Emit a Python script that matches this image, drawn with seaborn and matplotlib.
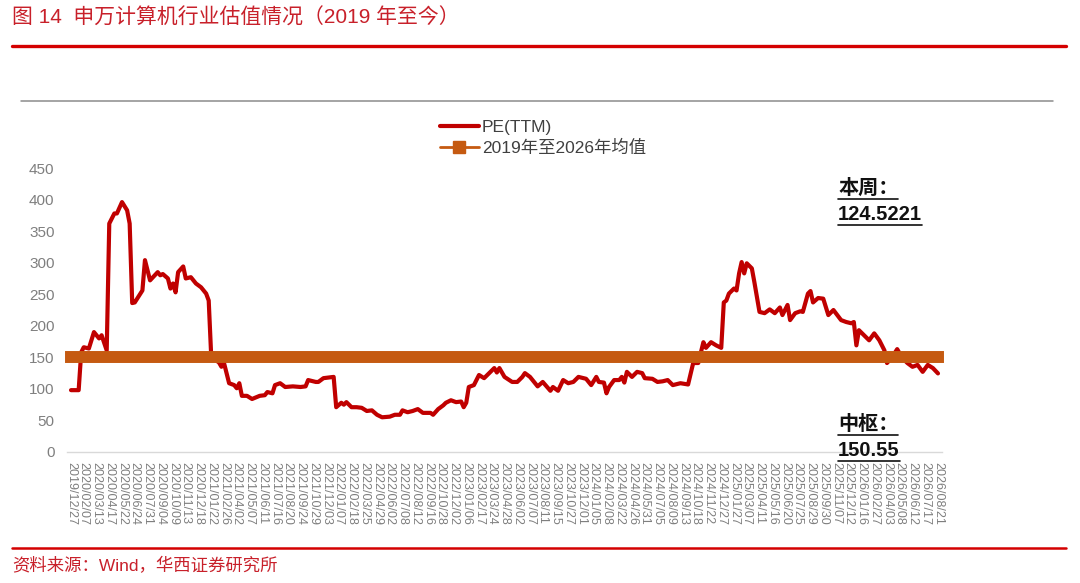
import pandas as pd
import seaborn as sns
import matplotlib.pyplot as plt
from matplotlib.lines import Line2D

# weekly category axis: one label every 5 trading weeks
tick_labels = [
    '2019/12/27', '2020/02/07', '2020/03/13', '2020/04/17', '2020/05/22', '2020/06/24',
    '2020/07/31', '2020/09/04', '2020/10/09', '2020/11/13', '2020/12/18',
    '2021/01/22', '2021/02/26', '2021/04/02', '2021/05/07', '2021/06/11', '2021/07/16',
    '2021/08/20', '2021/09/24', '2021/10/29', '2021/12/03',
    '2022/01/07', '2022/02/18', '2022/03/25', '2022/04/29', '2022/06/02', '2022/07/08',
    '2022/08/12', '2022/09/16', '2022/10/28', '2022/12/02',
    '2023/01/06', '2023/02/17', '2023/03/24', '2023/04/28', '2023/06/02', '2023/07/07',
    '2023/08/11', '2023/09/15', '2023/10/27', '2023/12/01',
    '2024/01/05', '2024/02/08', '2024/03/22', '2024/04/26', '2024/05/31', '2024/07/05',
    '2024/08/09', '2024/09/13', '2024/10/18', '2024/11/22', '2024/12/27',
    '2025/01/27', '2025/03/07', '2025/04/11', '2025/05/16', '2025/06/20', '2025/07/25',
    '2025/08/29', '2025/09/30', '2025/11/07', '2025/12/12',
    '2026/01/16', '2026/02/27', '2026/04/03', '2026/05/08', '2026/06/12', '2026/07/17',
    '2026/08/21',
]

# week index (0 = 2019/12/27) and PE(TTM)
weeks = [0, 3, 4, 5, 7, 9, 11, 12, 14, 15, 17, 18, 20, 22, 23, 24, 25, 28, 29, 31,
         34, 35, 36, 38, 39, 40, 41, 42, 44, 45, 47, 49, 51, 53, 54, 55, 58, 59, 60, 62,
         64, 65, 66, 67, 69, 71, 74, 76, 77, 79, 80, 82, 84, 87, 90, 92, 93, 96, 97, 99,
         103, 104, 106, 107, 108, 110, 112, 114, 116, 118, 120, 122, 125, 127, 129, 130,
         132, 134, 136, 138, 141, 142, 144, 146, 147, 149, 151, 153, 154, 155, 156, 158,
         160, 162, 164, 166, 167, 168, 170, 173, 175, 177, 178, 180, 183, 185, 188, 189,
         191, 193, 195, 197, 199, 202, 204, 206, 207, 209, 210, 211, 213, 215, 216, 217,
         218, 220, 222, 224, 225, 228, 230, 232, 234, 236, 239, 242, 244, 246, 248, 249,
         251, 253, 255, 256, 257, 258, 260, 261, 262, 263, 264, 265, 267, 268, 270, 272,
         274, 276, 278, 279, 281, 282, 284, 286, 287, 289, 290, 291, 293, 295, 297, 299,
         302, 304, 306, 307, 308, 309, 311, 313, 315, 317, 319, 320, 322, 324, 326, 328,
         330, 332, 334, 336, 338, 340]
pe = [98, 98, 158, 166, 164, 190, 180, 185, 161, 362, 378, 378, 396, 383, 362, 236, 237, 256, 304, 272,
      285, 280, 282, 275, 259, 267, 253, 285, 294, 275, 277, 267, 261, 251, 240, 150, 142, 135, 141, 109,
      106, 101, 109, 89, 89, 84, 89, 90, 95, 93, 106, 109, 103, 104, 103, 104, 114, 111, 111, 117,
      119, 71, 78, 75, 79, 71, 71, 70, 65, 66, 59, 55, 56, 59, 59, 66,
      63, 65, 68, 62, 62, 59, 68, 74, 78, 82, 79, 80, 71, 78, 103, 106,
      122, 117, 125, 133, 126, 133, 119, 111, 111, 119, 125, 119, 104, 111, 97, 103,
      97, 114, 109, 111, 119, 116, 106, 119, 111, 110, 93, 103, 114, 114, 119, 110,
      127, 119, 127, 125, 117, 116, 111, 112, 114, 106, 109, 107, 141, 141, 174, 165,
      174, 169, 165, 237, 240, 251, 259, 256, 283, 301, 283, 299, 291, 269, 222, 220,
      226, 220, 229, 217, 233, 209, 220, 223, 222, 251, 255, 237, 244, 243, 217, 225,
      209, 206, 204, 206, 169, 193, 185, 177, 188, 177, 161, 141, 150, 163, 149, 141,
      135, 138, 127, 138, 133, 124.5221]

mean_pe = 150.55
latest_pe = 124.5221
y_ticks = [0, 50, 100, 150, 200, 250, 300, 350, 400, 450]

sns.set_theme(style='white')
plt.rcParams['font.family'] = ['Liberation Sans', 'Noto Sans CJK SC', 'DejaVu Sans']

fig = plt.figure(figsize=(10.8, 5.83), dpi=100)
ax = fig.add_axes([0.0556, 0.2247, 0.824, 0.4871])

df = pd.DataFrame({'week': weeks, 'pe': pe})
sns.lineplot(data=df, x='week', y='pe', ax=ax, color='#C00000', linewidth=3.0)
ax.plot([weeks[0], weeks[-1]], [mean_pe, mean_pe], color='#C55A11', linewidth=8.6,
        solid_capstyle='projecting', zorder=3)

ax.set_xlim(-4.3, 344.7)
ax.set_ylim(0, 450)
ax.set_xticks(range(0, 341, 5))
ax.set_xticklabels(tick_labels, rotation=270, fontsize=9, color='#7F7F7F')
ax.set_yticks(y_ticks)
ax.set_yticklabels([str(v) for v in y_ticks], fontsize=11, color='#7F7F7F')
ax.tick_params(axis='both', length=0)
ax.tick_params(axis='x', pad=7)
ax.tick_params(axis='y', pad=4)
ax.set_xlabel('')
ax.set_ylabel('')
for s in ['top', 'right', 'left']:
    ax.spines[s].set_visible(False)
ax.spines['bottom'].set_color('#D9D9D9')
ax.spines['bottom'].set_linewidth(1.0)
ax.spines['bottom'].set_bounds(-1.6, 341.6)

handles = [Line2D([], [], color='#C00000', linewidth=3.0),
           Line2D([], [], color='#C55A11', linewidth=2.0, marker='s', markersize=8)]
fig.legend(handles, ['PE(TTM)', '2019年至2026年均值'], loc='center',
           bbox_to_anchor=(0.503, 0.763), frameon=False, fontsize=12.5,
           handlelength=2.2, handletextpad=0.2, labelspacing=0.25,
           labelcolor='#404040')

notes = [
    ('本周：', 418),
    (f'{latest_pe}', 377),
    ('中枢：', 43),
    (f'{mean_pe}', 3),
]
texts = []
for txt, yv in notes:
    t = ax.text(300.8, yv, txt, fontsize=14.5, fontweight='bold', color='#111111',
                ha='left', va='center', zorder=5)
    texts.append(t)

# title, rules, source
fig.text(0.011, 1 - 18 / 583, '图 14  申万计算机行业估值情况（2019 年至今）',
         color='#C8202A', fontsize=15, va='center', ha='left')
fig.add_artist(Line2D([0.011, 0.987], [1 - 46 / 583] * 2, color='#D40000', linewidth=2.4))
fig.add_artist(Line2D([0.019, 0.975], [1 - 101 / 583] * 2, color='#8C8C8C', linewidth=1.1))
fig.add_artist(Line2D([0.011, 0.987], [1 - 548 / 583] * 2, color='#D40000', linewidth=1.8))
fig.text(0.011, 1 - 566 / 583, '资料来源：Wind，华西证券研究所',
         color='#C8202A', fontsize=12.5, va='center', ha='left')

# underline the note texts
fig.canvas.draw()
inv = fig.transFigure.inverted()
for t in texts:
    bb = t.get_window_extent()
    (x0, y0), (x1, _) = inv.transform([(bb.x0, bb.y0 - 1), (bb.x1, bb.y0)])
    fig.add_artist(Line2D([x0, x1], [y0, y0], color='#111111', linewidth=1.2))

fig.savefig('out.png', dpi=100)
